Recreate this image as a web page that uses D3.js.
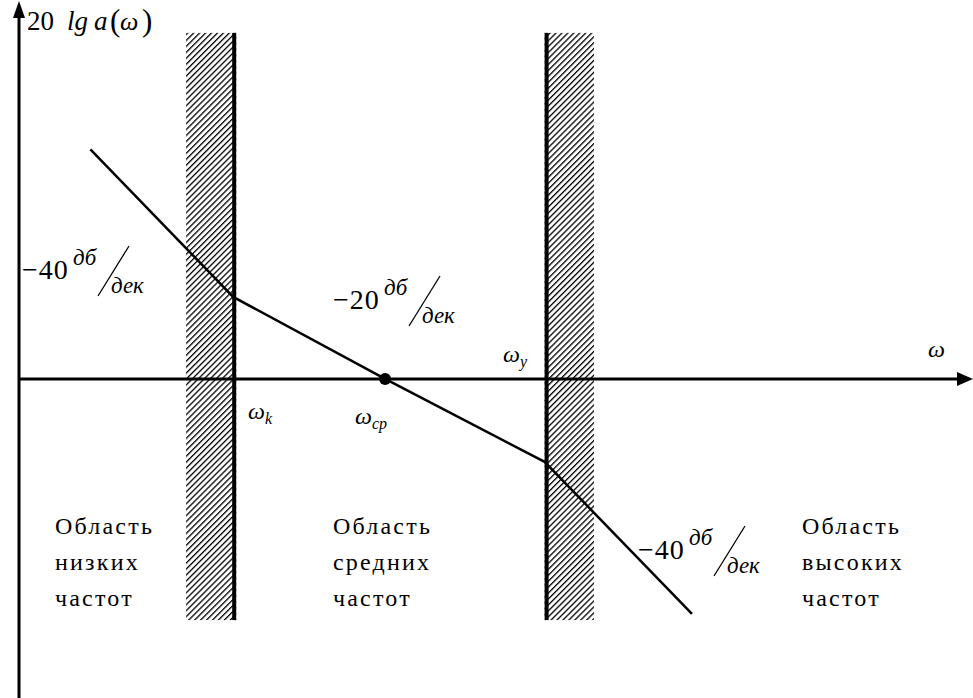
<!DOCTYPE html>
<html>
<head>
<meta charset="utf-8">
<script src="https://cdn.jsdelivr.net/npm/d3@7"></script>
<style>
  html, body { margin: 0; padding: 0; background: #fff; }
  svg { display: block; }
  text { font-family: "Liberation Serif", "Times New Roman", "DejaVu Serif", serif; fill: #000; }
  .it { font-style: italic; }
</style>
</head>
<body>
<svg id="chart" width="973" height="698"></svg>
<script>
// Asymptotic log-magnitude characteristic: breakpoints (lg ω, dB)
const lgOmega = [-1.94, -1, 0, 1.05, 2.02];
const magnitudeDb = [56, 20, 0, -20.2, -57.3];

// Characteristic frequencies on the lg ω axis
const freqNames = ["ω_k", "ω_ср", "ω_у"];
const freqValues = [-1, 0, 1.05];

// Hatched boundary bands between frequency regions (lg ω from, to)
const bandFrom = [-1.31, 1.05];
const bandTo = [-0.98, 1.375];
const bandTop = 84.4, bandBottom = -58.8;

// Slope annotations (dB/decade)
const slopeValues = [-40, -20, -40];

// Region captions
const regionLines = [
  ["Область", "низких", "частот"],
  ["Область", "средних", "частот"],
  ["Область", "высоких", "частот"]
];

const svg = d3.select("#chart");
const W = 973, H = 698;

const x = d3.scaleLinear().domain([-2.41, 3.87]).range([19, 973]);
const y = d3.scaleLinear().domain([91.2, -77.8]).range([5, 698]);

// hatch pattern
const step = 4.2;
const defs = svg.append("defs");
const pat = defs.append("pattern")
  .attr("id", "hatch").attr("patternUnits", "userSpaceOnUse")
  .attr("width", step).attr("height", step)
  .attr("patternTransform", "rotate(45)");
pat.append("rect").attr("width", step).attr("height", step).attr("fill", "#fff");
pat.append("line").attr("x1", 0).attr("y1", 0).attr("x2", 0).attr("y2", step)
  .attr("stroke", "#000").attr("stroke-width", 2.6);

// bands
bandFrom.forEach((f, i) => {
  svg.append("rect")
    .attr("x", x(f)).attr("y", y(bandTop))
    .attr("width", x(bandTo[i]) - x(f))
    .attr("height", y(bandBottom) - y(bandTop))
    .attr("fill", "url(#hatch)");
});
// solid edges of bands at ω_k and ω_у
svg.append("rect").attr("x", x(freqValues[0]) - 1).attr("y", y(bandTop))
  .attr("width", 4).attr("height", y(bandBottom) - y(bandTop)).attr("fill", "#000");
svg.append("rect").attr("x", x(freqValues[2])).attr("y", y(bandTop))
  .attr("width", 4).attr("height", y(bandBottom) - y(bandTop)).attr("fill", "#000");

// axes
const x0 = x.range()[0], y0 = y(0);
svg.append("line").attr("x1", x0).attr("y1", y.range()[1]).attr("x2", x0).attr("y2", 14)
  .attr("stroke", "#000").attr("stroke-width", 3);
svg.append("path").attr("d", `M${x0},1 L${x0 - 6},18 L${x0 + 6},18 Z`).attr("fill", "#000");
svg.append("line").attr("x1", x0).attr("y1", y0).attr("x2", W - 12).attr("y2", y0)
  .attr("stroke", "#000").attr("stroke-width", 3);
svg.append("path").attr("d", `M${W},${y0} L${W - 16},${y0 - 7} L${W - 16},${y0 + 7} Z`).attr("fill", "#000");

// characteristic
const pts = lgOmega.map((v, i) => [x(v), y(magnitudeDb[i])]);
svg.append("path").attr("d", d3.line()(pts))
  .attr("fill", "none").attr("stroke", "#000").attr("stroke-width", 2.5);
svg.append("circle").attr("cx", x(freqValues[1])).attr("cy", y(0)).attr("r", 6).attr("fill", "#000");

// axis titles
const yt = svg.append("g");
yt.append("text").attr("x", 27).attr("y", 30).attr("font-size", 27).text("20");
yt.append("text").attr("class", "it").attr("x", 67).attr("y", 30).attr("font-size", 27).text("lg");
yt.append("text").attr("class", "it").attr("x", 94).attr("y", 30).attr("font-size", 27).text("a");
yt.append("text").attr("x", 110).attr("y", 31).attr("font-size", 31).text("(");
yt.append("text").attr("class", "it").attr("x", 120).attr("y", 30).attr("font-size", 26).text("ω");
yt.append("text").attr("x", 142).attr("y", 31).attr("font-size", 31).text(")");
svg.append("text").attr("class", "it").attr("x", 928).attr("y", 357).attr("font-size", 24).text("ω");

// frequency labels with subscripts
const freqPos = [[248, 419], [355, 424], [503, 362]];
freqNames.forEach((n, i) => {
  const [main, sub] = n.split("_");
  const t = svg.append("text").attr("class", "it").attr("x", freqPos[i][0]).attr("y", freqPos[i][1]).attr("font-size", 24);
  t.append("tspan").text(main);
  t.append("tspan").attr("font-size", 16).attr("dy", 5).text(sub);
});

// slope annotations
const slopePos = [[22, 279], [333, 309], [638, 559]];
slopeValues.forEach((s, i) => {
  const [sx, sy] = slopePos[i];
  const g = svg.append("g").attr("transform", `translate(${sx},${sy})`);
  g.append("text").attr("x", 0).attr("y", 0).attr("font-size", 28).attr("letter-spacing", 1).text("\u2212" + Math.abs(s));
  g.append("text").attr("class", "it").attr("x", 51).attr("y", -14).attr("font-size", 23).text("дб");
  g.append("line").attr("x1", 76).attr("y1", 17).attr("x2", 107).attr("y2", -33)
    .attr("stroke", "#000").attr("stroke-width", 1.3);
  g.append("text").attr("class", "it").attr("x", 89).attr("y", 14).attr("font-size", 23).text("дек");
});

// region captions
const regionX = [55, 333, 802];
regionLines.forEach((lines, i) => {
  lines.forEach((ln, j) => {
    svg.append("text").attr("x", regionX[i]).attr("y", 534 + j * 36)
      .attr("font-size", 24).attr("letter-spacing", 2.2).text(ln);
  });
});
</script>
</body>
</html>
